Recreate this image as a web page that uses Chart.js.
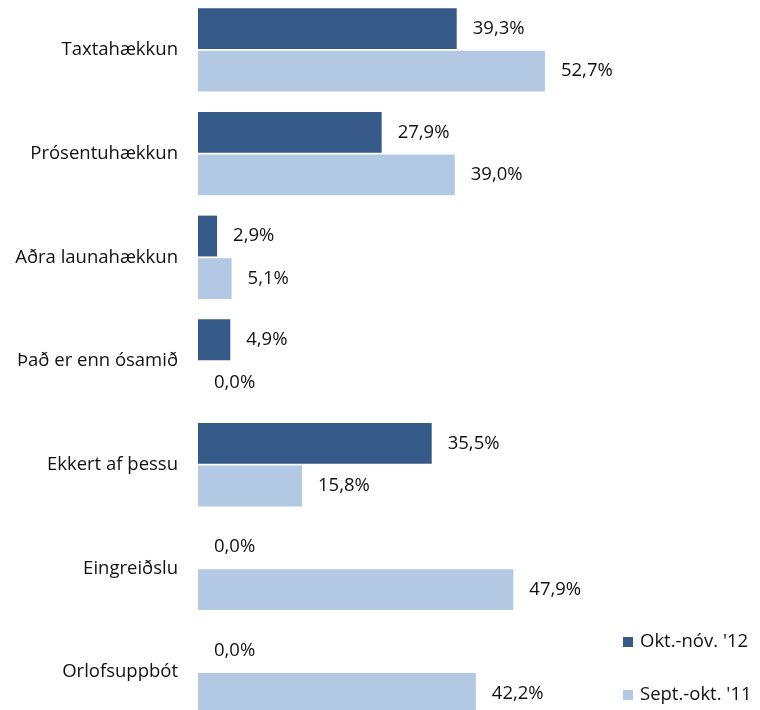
<!DOCTYPE html>
<html>
<head>
<meta charset="utf-8">
<script src="https://cdn.jsdelivr.net/npm/chart.js@4/dist/chart.umd.min.js"></script>
<style>
  html, body { margin: 0; padding: 0; background: #fff; overflow: hidden; }
  #wrap { position: absolute; left: 0; top: -2px; width: 760px; height: 726px; }
</style>
</head>
<body>
<div id="wrap"><canvas id="c"></canvas></div>
<script>
const categories = ["Taxtahækkun", "Prósentuhækkun", "Aðra launahækkun", "Það er enn ósamið", "Ekkert af þessu", "Eingreiðslu", "Orlofsuppbót"];
const seriesNames = ["Okt.-nóv. '12", "Sept.-okt. '11"];
const okt12 = [39.3, 27.9, 2.9, 4.9, 35.5, 0.0, 0.0];
const sept11 = [52.7, 39.0, 5.1, 0.0, 15.8, 47.9, 42.2];

const FONT = "'Open Sans', 'Noto Sans', sans-serif";
const FS = 18.5;
const DARK = '#355A87';
const LIGHT = '#B3C8E3';

const fmt = v => v.toFixed(1).replace('.', ',') + '%';

const valueLabels = {
  id: 'valueLabels',
  afterDatasetsDraw(chart) {
    const ctx = chart.ctx;
    ctx.save();
    ctx.font = FS + 'px ' + FONT;
    ctx.fillStyle = '#111';
    ctx.textAlign = 'left';
    ctx.textBaseline = 'middle';
    chart.data.datasets.forEach((ds, i) => {
      const meta = chart.getDatasetMeta(i);
      meta.data.forEach((bar, j) => {
        ctx.fillText(fmt(ds.data[j]), bar.x + 16, bar.y);
      });
    });
    ctx.restore();
  }
};

const sideLegend = {
  id: 'sideLegend',
  afterDraw(chart) {
    const ctx = chart.ctx;
    ctx.save();
    ctx.font = FS + 'px ' + FONT;
    ctx.textAlign = 'left';
    ctx.textBaseline = 'middle';
    const ys = [644, 697];
    chart.data.datasets.forEach((ds, i) => {
      const y = ys[i];
      ctx.fillStyle = ds.backgroundColor;
      ctx.fillRect(623, y - 5, 10, 10);
      ctx.fillStyle = '#111';
      ctx.fillText(ds.label, 640, y);
    });
    ctx.restore();
  }
};

new Chart(document.getElementById('c'), {
  type: 'bar',
  data: {
    labels: categories,
    datasets: [
      { label: seriesNames[0], data: okt12, backgroundColor: DARK, categoryPercentage: 0.82, barPercentage: 0.96 },
      { label: seriesNames[1], data: sept11, backgroundColor: LIGHT, categoryPercentage: 0.82, barPercentage: 0.96 }
    ]
  },
  options: {
    indexAxis: 'y',
    responsive: true,
    maintainAspectRatio: false,
    animation: false,
    layout: { padding: { left: 0, right: 167, top: 0, bottom: 0 } },
    plugins: { legend: { display: false }, tooltip: { enabled: false } },
    scales: {
      x: { display: false, min: 0, max: 60 },
      y: {
        grid: { display: false, drawTicks: false },
        border: { display: false },
        ticks: { color: '#111', padding: 20, font: { family: FONT, size: FS } },
        afterFit(scale) { scale.width = 198; scale.paddingTop = 0; scale.paddingBottom = 0; }
      }
    }
  },
  plugins: [valueLabels, sideLegend]
});
</script>
</body>
</html>
